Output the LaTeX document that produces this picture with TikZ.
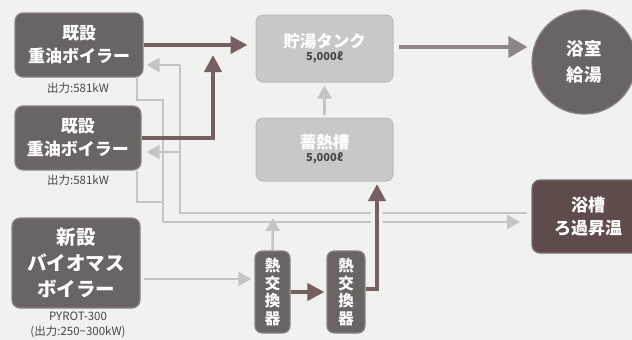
\documentclass[tikz,border=0pt]{standalone}
\usepackage{fontspec}
\setmainfont{Noto Sans CJK JP}
\usetikzlibrary{arrows.meta,calc}
\definecolor{bg}{HTML}{F1F1EF}
\definecolor{dkfill}{HTML}{6A6464}
\definecolor{dkedge}{HTML}{8A8484}
\definecolor{ltfill}{HTML}{C9C8C8}
\definecolor{ltedge}{HTML}{BDBCBC}
\definecolor{darrow}{HTML}{76605F}
\definecolor{marrow}{HTML}{8C8686}
\definecolor{lline}{HTML}{C6C5C5}
\definecolor{brownbox}{HTML}{5E4B4A}
\definecolor{labeltext}{HTML}{4A4646}
\begin{document}
\begin{tikzpicture}[x=1pt,y=-1pt,
  darkbox/.style={draw=dkedge, fill=dkfill, line width=1.2pt, rounded corners=8pt, text=white,
    font=\bfseries\fontsize{17}{23}\selectfont, align=center, inner sep=0pt},
  lightbox/.style={draw=ltedge, fill=ltfill, line width=1pt, rounded corners=7pt, text=white,
    align=center, inner sep=0pt},
  hxbox/.style={darkbox, rounded corners=7pt, font=\bfseries\fontsize{15.5}{17.5}\selectfont},
  lbl/.style={text=labeltext, font=\fontsize{11.5}{15}\selectfont, align=center, inner sep=0pt},
  darr/.style={draw=darrow, line width=4pt, -{Triangle[length=17pt,width=17pt]}},
  marr/.style={draw=marrow, line width=3.5pt, -{Triangle[length=19pt,width=21pt]}},
  larr/.style={draw=lline, line width=2.5pt, -{Triangle[length=13pt,width=14pt]}},
  lpipe/.style={draw=lline, line width=2.5pt},
  mask/.style={fill=bg, draw=none}
]
\useasboundingbox (0,0) rectangle (632,340);
\fill[bg] (0,0) rectangle (632,340);
\clip (0,0) rectangle (632,340);

% nodes
\node[darkbox, minimum width=128pt, minimum height=64pt] (b1) at (79,45) {既設\\重油ボイラー};
\node[lbl] (l1) at (78,88) {出力:581kW};
\node[darkbox, minimum width=126pt, minimum height=64pt] (b2) at (78,138) {既設\\重油ボイラー};
\node[lbl] (l2) at (78,180) {出力:581kW};
\node[darkbox, minimum width=128pt, minimum height=90pt, font=\bfseries\fontsize{19.5}{26}\selectfont] (bio) at (76,263) {新設\\バイオマス\\ボイラー};
\node[lbl] (l3) at (78,325) {PYROT-300\\(出力:250\textasciitilde300kW)};
\node[hxbox, minimum width=35pt, minimum height=82pt] (hx1) at (272.5,292) {熱\\交\\換\\器};
\node[hxbox, minimum width=38pt, minimum height=82pt] (hx2) at (346,292) {熱\\交\\換\\器};
\node[lightbox, minimum width=137pt, minimum height=67pt] (tank) at (324.5,48.5)
  {{\bfseries\fontsize{16.5}{18}\selectfont 貯湯タンク}\\[1pt]{\color{labeltext}\bfseries\fontsize{11}{12}\selectfont 5,000ℓ}};
\node[lightbox, minimum width=137pt, minimum height=63pt] (chiku) at (324.5,149.5)
  {{\bfseries\fontsize{16.5}{18}\selectfont 蓄熱槽}\\[1pt]{\color{labeltext}\bfseries\fontsize{11}{12}\selectfont 5,000ℓ}};
\node[circle, draw=dkedge, fill=dkfill, line width=1.2pt, minimum size=104pt, inner sep=0pt,
  text=white, font=\bfseries\fontsize{17.5}{26}\selectfont, align=center] (bath) at (584,62) {浴室\\給湯};
\node[darkbox, fill=brownbox, draw=brownbox!80!white, minimum width=112pt, minimum height=73pt,
  text width=100pt] (tub) at (588,216.5) {浴槽\\ろ過昇温};

% return pipes (light)
\coordinate (ra) at (527,213);
\coordinate (rb) at (180,213);
\coordinate (rc) at (180,65);
\coordinate (rd) at (180,152);
\coordinate (s1) at (137,77);
\coordinate (s2) at (137,171);
\coordinate (v1) at (163,100);
\coordinate (v2) at (163,202);
\coordinate (v3) at (163,222);
\coordinate (ve) at (520,222);
\draw[lpipe] (ra) -- (rb) -- (rc);
\draw[larr] (rc) -- ($(b1.east)+(3,20)$);
\draw[larr] (rd) -- ($(b2.east)+(5,14)$);
\draw[lpipe] (s1) |- (v1) -- (v3);
\draw[lpipe] (s2) |- (v2);
\draw[larr] (v3) -- (ve);

% light arrows
\draw[larr, shorten <=3pt, shorten >=3pt] (chiku.north) -- (tank.south);
\draw[larr, shorten <=3pt, shorten >=3pt] ($(bio.east)+(0,16)$) -- ($(hx1.west)+(0,-13)$);
\coordinate (hxup) at (273,218);
\draw[larr] (hx1.north) -- (hxup);

% mask where dark riser crosses pipes
\fill[mask] (371,207) rectangle (383,228);

% dark arrows
\draw[darr, shorten >=8pt] (b1.east) -- (b1.east -| tank.west);
\coordinate (j1) at (213,55);
\draw[darr] (b2.east) -| (j1);
\draw[darr, shorten >=2pt] (hx1.east) -- (hx2.west);
\coordinate (j2) at (377,184);
\draw[darr] ($(hx2.east)+(0,-3)$) -| (j2);
\draw[marr, shorten <=5pt, shorten >=4pt] ($(tank.east)+(0,-1.5)$) -- ($(tank.east -| bath.west)+(0,-1.5)$);
\end{tikzpicture}
\end{document}
